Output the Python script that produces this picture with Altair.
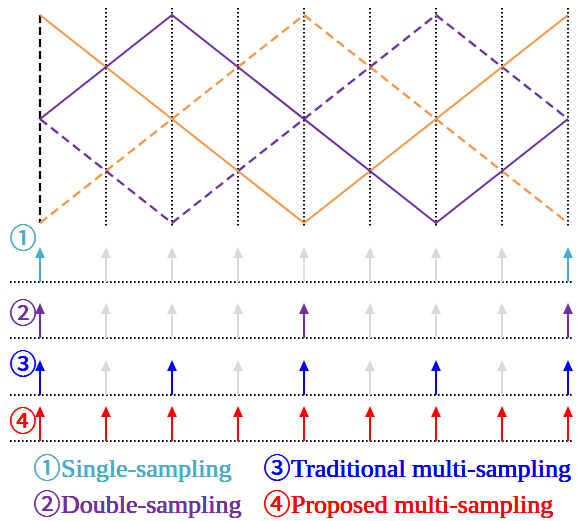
import altair as alt
import pandas as pd

# ---- data ----
wave_names = ["orange_solid", "purple_solid", "orange_dashed", "purple_dashed"]
wave_t = {
    "orange_solid": [0, 4, 8],
    "purple_solid": [0, 2, 6, 8],
    "orange_dashed": [0, 4, 8],
    "purple_dashed": [0, 2, 6, 8],
}
wave_v = {
    "orange_solid": [1, 0, 1],
    "purple_solid": [0.5, 1, 0, 0.5],
    "orange_dashed": [0, 1, 0],
    "purple_dashed": [0.5, 0, 1, 0.5],
}
sample_instants = [0, 1, 2, 3, 4, 5, 6, 7, 8]
row_ids = [1, 2, 3, 4]
row_active = {
    1: [0, 8],
    2: [0, 4, 8],
    3: [0, 2, 4, 6, 8],
    4: [0, 1, 2, 3, 4, 5, 6, 7, 8],
}
row_symbols = ["①", "②", "③", "④"]
legend_names = ["Single-sampling", "Double-sampling",
                "Traditional multi-sampling", "Proposed multi-sampling"]

# ---- styles ----
ORANGE = "#F79646"
PURPLE = "#7030A0"
TEAL = "#4BACC6"
BLUE = "#0000FF"
RED = "#FF0000"
GRAY = "#D9D9D9"
row_colors = [TEAL, PURPLE, BLUE, RED]
SERIF = "Liberation Serif, Times New Roman, serif"
CJK = "Noto Sans CJK SC"

xs = alt.Scale(domain=[0, 8], range=[40, 568])
ys_wave = alt.Scale(domain=[0, 1], range=[223, 15])
ys_row = alt.Scale(domain=[1, 2, 3, 4], range=[282, 338, 395, 441])

# ---- tables ----
wave_rows = []
for n in wave_names:
    for t, v in zip(wave_t[n], wave_v[n]):
        wave_rows.append({"series": n, "t": t, "v": v})
wave_df = pd.DataFrame(wave_rows)

grid_df = pd.DataFrame({"t": sample_instants[1:]})
start_df = pd.DataFrame({"t": sample_instants[:1]})

arrow_rows = []
for r in row_ids:
    for t in sample_instants:
        kind = str(r) if t in row_active[r] else "gray"
        arrow_rows.append({"row": r, "t": t, "kind": kind})
arrow_df = pd.DataFrame(arrow_rows)
base_df = pd.DataFrame({"row": row_ids})

color_scale = alt.Scale(domain=["gray", "1", "2", "3", "4"],
                        range=[GRAY, TEAL, PURPLE, BLUE, RED])

# ---- layers ----
grid = alt.Chart(grid_df).mark_rule(color="black", strokeWidth=2, strokeDash=[1.6, 2.4]).encode(
    x=alt.X("t:Q", scale=xs, axis=None), y=alt.value(8), y2=alt.value(226))
start = alt.Chart(start_df).mark_rule(color="black", strokeWidth=2.2, strokeDash=[8, 4]).encode(
    x=alt.X("t:Q", scale=xs, axis=None), y=alt.value(15), y2=alt.value(223))

def wave(name, color, dash):
    kw = dict(color=color, strokeWidth=2)
    if dash:
        kw["strokeDash"] = [9, 5]
        kw["strokeWidth"] = 2.3
    return alt.Chart(wave_df[wave_df.series == name]).mark_line(**kw).encode(
        x=alt.X("t:Q", scale=xs, axis=None),
        y=alt.Y("v:Q", scale=ys_wave, axis=None),
    )

waves = [
    wave("orange_dashed", ORANGE, True),
    wave("purple_dashed", PURPLE, True),
    wave("orange_solid", ORANGE, False),
    wave("purple_solid", PURPLE, False),
]

baselines = alt.Chart(base_df).mark_rule(color="black", strokeWidth=2, strokeDash=[1.6, 2.4]).encode(
    y=alt.Y("row:Q", scale=ys_row, axis=None), x=alt.value(10), x2=alt.value(572))

shafts = alt.Chart(arrow_df).mark_rule(strokeWidth=2, y2Offset=-26).encode(
    x=alt.X("t:Q", scale=xs, axis=None),
    y=alt.Y("row:Q", scale=ys_row, axis=None),
    y2="row:Q",
    color=alt.Color("kind:N", scale=color_scale, legend=None),
    order=alt.Order("kind:N", sort="descending"),
)
heads = alt.Chart(arrow_df).mark_point(
    shape="M0,-1L0.9,1L-0.9,1Z", size=121, filled=True, opacity=1, strokeWidth=0, yOffset=-29.5
).encode(
    x=alt.X("t:Q", scale=xs, axis=None),
    y=alt.Y("row:Q", scale=ys_row, axis=None),
    color=alt.Color("kind:N", scale=color_scale, legend=None),
    order=alt.Order("kind:N", sort="descending"),
)

sym_y = [240, 315, 366, 423]
symbols = [
    alt.Chart(base_df).mark_text(text=s, font=CJK, fontSize=27, fontWeight="normal", color=c,
                                 align="center", baseline="middle").encode(
        x=alt.value(23), y=alt.value(yy))
    for s, c, yy in zip(row_symbols, row_colors, sym_y)
]

leg_pos = [(35, 477), (35, 513), (265, 477), (265, 513)]
legend = []
for s, name, c, (px, py) in zip(row_symbols, legend_names, row_colors, leg_pos):
    legend.append(alt.Chart(base_df).mark_text(
        text=s, font=CJK, fontSize=27, fontWeight="normal", color=c, align="center",
        baseline="middle").encode(x=alt.value(px + 12), y=alt.value(py - 7)))
    legend.append(alt.Chart(base_df).mark_text(
        text=name, font=SERIF, fontSize=26, fontWeight="normal", color=c, align="left",
        baseline="alphabetic").encode(x=alt.value(px + 26), y=alt.value(py)))

chart = alt.layer(
    grid, start, *waves, baselines, shafts, heads, *symbols, *legend
).resolve_scale(y="independent").properties(
    width=581, height=521, padding=0, autosize=alt.AutoSizeParams(type="none")
).configure_view(strokeWidth=0)

chart.save("out.html", embed_options={"renderer": "svg", "actions": False})
